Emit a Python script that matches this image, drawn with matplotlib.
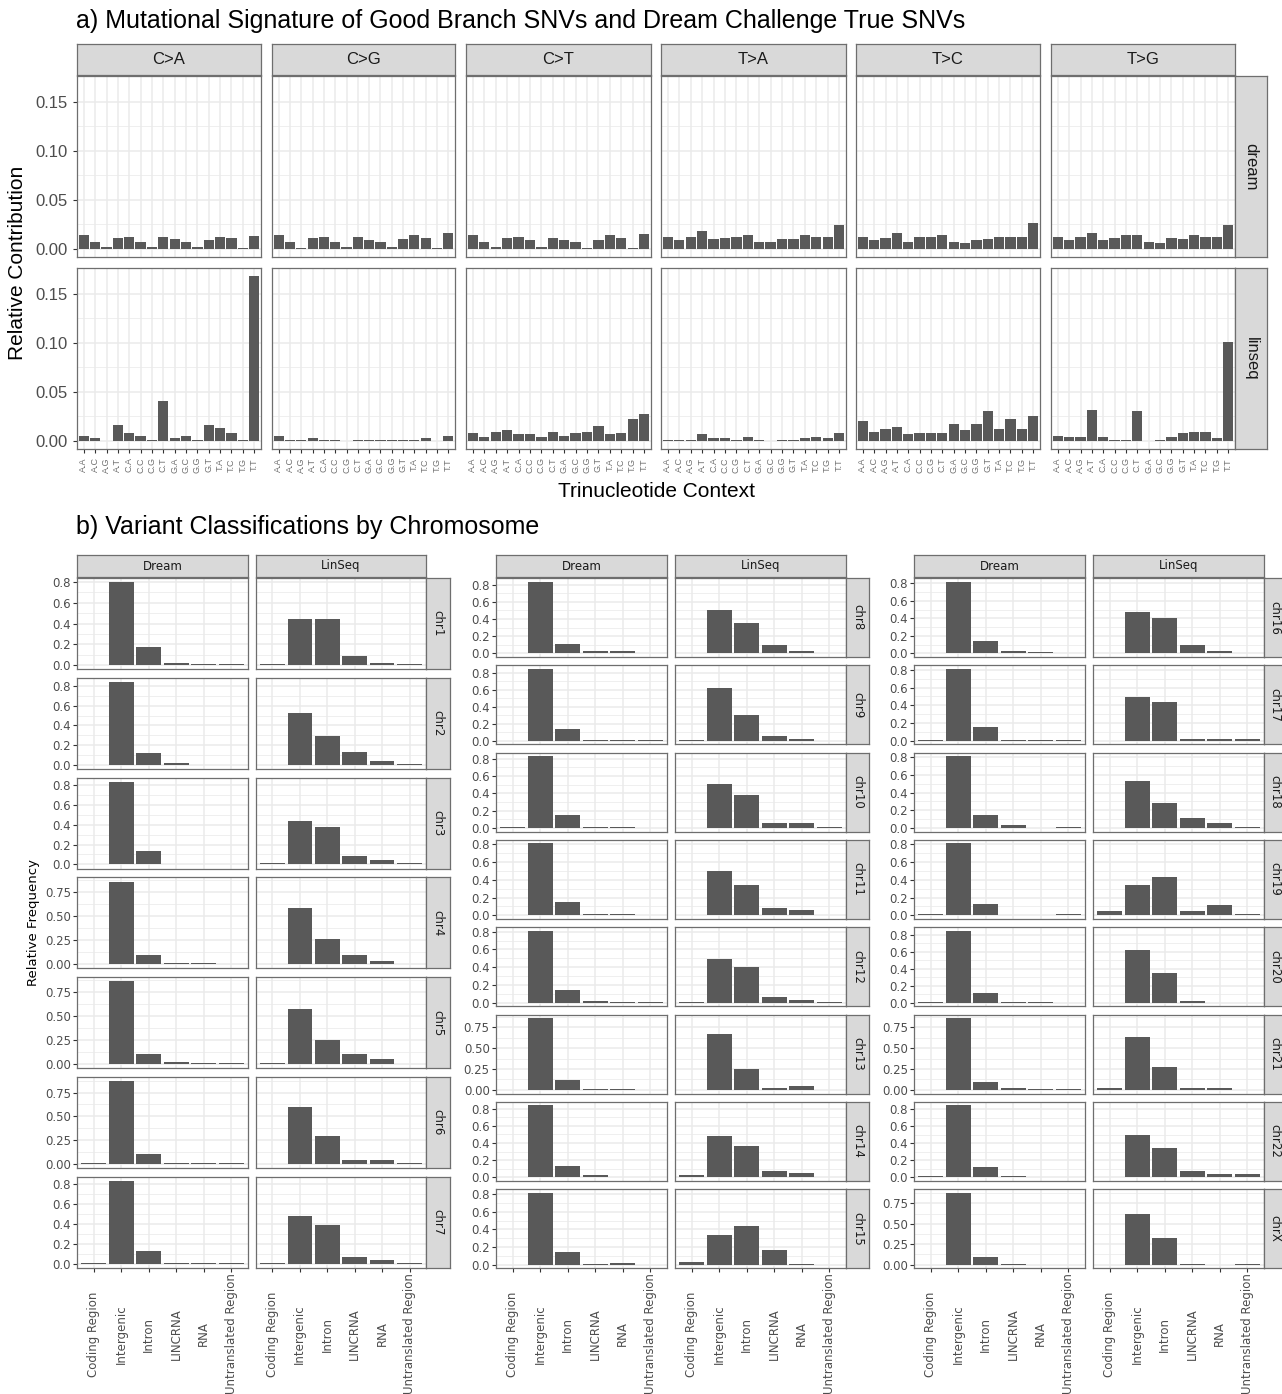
import numpy as np
import matplotlib
matplotlib.use('Agg')
import matplotlib.pyplot as plt
from matplotlib.transforms import blended_transform_factory

# a) mutational signature: relative contribution per trinucleotide context
contexts = ['A.A', 'A.C', 'A.G', 'A.T', 'C.A', 'C.C', 'C.G', 'C.T',
            'G.A', 'G.C', 'G.G', 'G.T', 'T.A', 'T.C', 'T.G', 'T.T']
substitutions = ['C>A', 'C>G', 'C>T', 'T>A', 'T>C', 'T>G']
samples = ['dream', 'linseq']

dream_ca = [0.0138, 0.0072, 0.0017, 0.0110, 0.0124, 0.0072, 0.0017, 0.0124,
            0.0100, 0.0072, 0.0017, 0.0086, 0.0124, 0.0110, 0.0007, 0.0134]
dream_cg = [0.0138, 0.0072, 0.0003, 0.0110, 0.0124, 0.0072, 0.0017, 0.0124,
            0.0086, 0.0072, 0.0017, 0.0100, 0.0138, 0.0110, 0.0007, 0.0165]
dream_ct = [0.0138, 0.0072, 0.0017, 0.0110, 0.0124, 0.0086, 0.0017, 0.0110,
            0.0086, 0.0072, 0.0007, 0.0086, 0.0138, 0.0110, 0.0007, 0.0150]
dream_ta = [0.0124, 0.0086, 0.0124, 0.0180, 0.0100, 0.0110, 0.0124, 0.0138,
            0.0072, 0.0072, 0.0100, 0.0100, 0.0138, 0.0124, 0.0124, 0.0245]
dream_tc = [0.0124, 0.0086, 0.0110, 0.0165, 0.0072, 0.0124, 0.0124, 0.0138,
            0.0072, 0.0059, 0.0086, 0.0100, 0.0124, 0.0124, 0.0124, 0.0260]
dream_tg = [0.0124, 0.0086, 0.0124, 0.0165, 0.0086, 0.0110, 0.0138, 0.0138,
            0.0072, 0.0059, 0.0110, 0.0100, 0.0138, 0.0124, 0.0124, 0.0245]

linseq_ca = [0.0048, 0.0030, 0.0000, 0.0156, 0.0078, 0.0044, 0.0010, 0.0410,
             0.0030, 0.0044, 0.0010, 0.0156, 0.0133, 0.0078, 0.0010, 0.1680]
linseq_cg = [0.0044, 0.0010, 0.0010, 0.0030, 0.0010, 0.0010, 0.0000, 0.0010,
             0.0010, 0.0010, 0.0010, 0.0010, 0.0010, 0.0030, 0.0000, 0.0044]
linseq_ct = [0.0078, 0.0037, 0.0092, 0.0105, 0.0065, 0.0065, 0.0037, 0.0092,
             0.0050, 0.0078, 0.0092, 0.0146, 0.0065, 0.0078, 0.0224, 0.0276]
linseq_ta = [0.0010, 0.0010, 0.0010, 0.0065, 0.0024, 0.0024, 0.0010, 0.0037,
             0.0010, 0.0000, 0.0010, 0.0010, 0.0024, 0.0037, 0.0024, 0.0078]
linseq_tc = [0.0197, 0.0092, 0.0120, 0.0143, 0.0065, 0.0078, 0.0078, 0.0078,
             0.0170, 0.0105, 0.0170, 0.0300, 0.0120, 0.0224, 0.0120, 0.0250]
linseq_tg = [0.0050, 0.0037, 0.0037, 0.0316, 0.0037, 0.0010, 0.0010, 0.0300,
             0.0000, 0.0010, 0.0037, 0.0078, 0.0092, 0.0092, 0.0024, 0.1010]

dream_sig = [dream_ca, dream_cg, dream_ct, dream_ta, dream_tc, dream_tg]
linseq_sig = [linseq_ca, linseq_cg, linseq_ct, linseq_ta, linseq_tc, linseq_tg]

# b) variant classifications per chromosome (relative frequency)
categories = ['Coding Region', 'Intergenic', 'Intron', 'LINCRNA', 'RNA', 'Untranslated Region']
chromosomes = ['chr%d' % i for i in range(1, 23)] + ['chrX']
methods = ['Dream', 'LinSeq']

dream_freq = [
    [0.003, 0.800, 0.177, 0.019, 0.010, 0.004],
    [0.000, 0.843, 0.120, 0.020, 0.000, 0.000],
    [0.000, 0.830, 0.136, 0.008, 0.008, 0.000],
    [0.000, 0.860, 0.096, 0.014, 0.008, 0.000],
    [0.000, 0.856, 0.100, 0.017, 0.006, 0.006],
    [0.005, 0.870, 0.107, 0.005, 0.005, 0.005],
    [0.005, 0.836, 0.132, 0.011, 0.011, 0.005],
    [0.000, 0.835, 0.110, 0.030, 0.023, 0.000],
    [0.000, 0.843, 0.134, 0.008, 0.008, 0.008],
    [0.008, 0.827, 0.152, 0.008, 0.008, 0.000],
    [0.007, 0.810, 0.150, 0.019, 0.011, 0.007],
    [0.000, 0.810, 0.140, 0.013, 0.006, 0.006],
    [0.000, 0.860, 0.122, 0.008, 0.008, 0.000],
    [0.006, 0.840, 0.134, 0.023, 0.006, 0.006],
    [0.000, 0.820, 0.140, 0.008, 0.015, 0.000],
    [0.000, 0.820, 0.136, 0.023, 0.011, 0.000],
    [0.007, 0.810, 0.155, 0.007, 0.007, 0.007],
    [0.000, 0.810, 0.146, 0.030, 0.000, 0.007],
    [0.019, 0.807, 0.123, 0.008, 0.008, 0.015],
    [0.006, 0.845, 0.117, 0.006, 0.006, 0.000],
    [0.000, 0.860, 0.090, 0.024, 0.006, 0.006],
    [0.015, 0.845, 0.124, 0.012, 0.006, 0.006],
    [0.000, 0.880, 0.090, 0.010, 0.000, 0.000],
]
linseq_freq = [
    [0.004, 0.443, 0.443, 0.082, 0.019, 0.012],
    [0.000, 0.523, 0.287, 0.130, 0.040, 0.008],
    [0.017, 0.436, 0.380, 0.086, 0.043, 0.013],
    [0.007, 0.590, 0.260, 0.096, 0.038, 0.000],
    [0.006, 0.572, 0.253, 0.106, 0.048, 0.000],
    [0.000, 0.598, 0.296, 0.041, 0.041, 0.014],
    [0.005, 0.486, 0.387, 0.069, 0.033, 0.011],
    [0.000, 0.504, 0.358, 0.096, 0.030, 0.000],
    [0.008, 0.617, 0.303, 0.050, 0.019, 0.000],
    [0.000, 0.503, 0.377, 0.061, 0.053, 0.008],
    [0.007, 0.500, 0.344, 0.082, 0.056, 0.000],
    [0.006, 0.490, 0.396, 0.063, 0.030, 0.006],
    [0.000, 0.672, 0.249, 0.028, 0.043, 0.000],
    [0.023, 0.483, 0.364, 0.073, 0.050, 0.008],
    [0.034, 0.340, 0.438, 0.166, 0.008, 0.000],
    [0.000, 0.472, 0.408, 0.094, 0.030, 0.000],
    [0.000, 0.498, 0.440, 0.015, 0.015, 0.015],
    [0.000, 0.530, 0.277, 0.116, 0.056, 0.015],
    [0.052, 0.335, 0.431, 0.052, 0.112, 0.015],
    [0.000, 0.620, 0.344, 0.020, 0.000, 0.000],
    [0.024, 0.632, 0.273, 0.024, 0.024, 0.000],
    [0.000, 0.494, 0.344, 0.073, 0.039, 0.039],
    [0.000, 0.624, 0.330, 0.012, 0.000, 0.012],
]

W, H = 1282, 1394
BAR = '#595959'
GRID = '#EBEBEB'
BORDER = '#6E6E6E'
STRIP = '#D9D9D9'
TXT = '#4D4D4D'
FA = 'Liberation Sans'
FB = 'DejaVu Sans'

fig = plt.figure(figsize=(W / 100, H / 100), dpi=100)


def box(x0, y0, x1, y1):
    return fig.add_axes([x0 / W, 1 - y1 / H, (x1 - x0) / W, (y1 - y0) / H])


def strip(x0, y0, x1, y1, label, rot=0, size=11, family=FA):
    s = box(x0, y0, x1, y1)
    s.set_facecolor(STRIP)
    s.set_xticks([])
    s.set_yticks([])
    for sp in s.spines.values():
        sp.set_color(BORDER)
        sp.set_linewidth(0.9)
    s.text(0.5, 0.5, label, rotation=rot, ha='center', va='center',
           transform=s.transAxes, fontsize=size, family=family, color='#1A1A1A')


def style(ax):
    for sp in ax.spines.values():
        sp.set_color(BORDER)
        sp.set_linewidth(0.9)
        sp.set_zorder(5)
    ax.set_axisbelow(True)
    ax.grid(True, which='major', color=GRID, lw=1.1)
    ax.grid(True, which='minor', axis='y', color=GRID, lw=0.55)
    ax.tick_params(which='minor', length=0)
    ax.tick_params(which='major', color='#333333', length=3, width=0.8, labelcolor=TXT)


# ---------------- part a ----------------
fig.text(76 / W, 1 - 21 / H,
         'a) Mutational Signature of Good Branch SNVs and Dream Challenge True SNVs',
         fontsize=18, family=FA, va='center', ha='left')

a_rows = [(76, 257), (268, 449)]
a_cols = [(77, 261), (272, 455), (466, 651), (661, 846), (856, 1040), (1051, 1235)]
a_ylim = (-0.0084, 0.1764)
xa = np.arange(len(contexts))

for r, (sample, sig) in enumerate(zip(samples, [dream_sig, linseq_sig])):
    y0, y1 = a_rows[r]
    for c, sub in enumerate(substitutions):
        x0, x1 = a_cols[c]
        ax = box(x0, y0, x1, y1)
        style(ax)
        ax.bar(xa, sig[c], width=0.9, color=BAR, zorder=3)
        ax.set_xlim(-0.6, len(contexts) - 0.4)
        ax.set_ylim(*a_ylim)
        ax.set_yticks([0, 0.05, 0.10, 0.15])
        ax.set_yticks([0.025, 0.075, 0.125], minor=True)
        ax.set_xticks(xa)
        ax.set_xticklabels([])
        if c == 0:
            ax.set_yticklabels(['0.00', '0.05', '0.10', '0.15'], fontsize=12, family=FA)
        else:
            ax.tick_params(axis='y', length=0, labelleft=False)
        if r == 0:
            ax.tick_params(axis='x', length=0)
            strip(x0, 44, x1, 75, sub, size=12)
        else:
            tr = blended_transform_factory(ax.transData, fig.transFigure)
            for i, lab in enumerate(contexts):
                ax.text(i, 1 - 465 / H, lab, rotation=90, ha='center', va='center',
                        transform=tr, fontsize=6.5, family=FA, color='#707070')
    strip(1235, y0, 1267, y1, sample, rot=270, size=12)

fig.text(18 / W, 1 - 263 / H, 'Relative Contribution', rotation=90,
         fontsize=15, family=FA, ha='center', va='center')
fig.text(656 / W, 1 - 491 / H, 'Trinucleotide Context',
         fontsize=15, family=FA, ha='center', va='center')

# ---------------- part b ----------------
fig.text(76 / W, 1 - 527 / H, 'b) Variant Classifications by Chromosome',
         fontsize=18, family=FA, va='center', ha='left')

blocks = [
    (0, 7, 77, 248, 256, 426, 450, 99.8, 91),
    (7, 15, 496, 667, 675, 846, 869, 87.3, 79),
    (15, 23, 914, 1085, 1093, 1264, 1286, 87.3, 79),
]
xb = np.arange(len(categories))

for start, stop, dx0, dx1, lx0, lx1, sx1, step, h in blocks:
    strip(dx0, 555, dx1, 577, methods[0], size=8.5, family=FB)
    strip(lx0, 555, lx1, 577, methods[1], size=8.5, family=FB)
    for k, idx in enumerate(range(start, stop)):
        top = 578 + k * step
        bot = top + h
        ymax = max(max(dream_freq[idx]), max(linseq_freq[idx]))
        if ymax > 0.85:
            ticks = [0, 0.25, 0.5, 0.75]
            minor = [0.125, 0.375, 0.625, 0.875]
            labels = ['0.00', '0.25', '0.50', '0.75']
        else:
            ticks = [0, 0.2, 0.4, 0.6, 0.8]
            minor = [0.1, 0.3, 0.5, 0.7]
            labels = ['0.0', '0.2', '0.4', '0.6', '0.8']
        for m, (x0, x1, vals) in enumerate([(dx0, dx1, dream_freq[idx]),
                                             (lx0, lx1, linseq_freq[idx])]):
            ax = box(x0, top, x1, bot)
            style(ax)
            ax.bar(xb, vals, width=0.9, color=BAR, zorder=3)
            ax.set_xlim(-0.6, len(categories) - 0.4)
            ax.set_ylim(-0.05 * ymax, 1.05 * ymax)
            ax.set_yticks(ticks)
            ax.set_yticks(minor, minor=True)
            ax.set_xticks(xb)
            ax.set_xticklabels([])
            if m == 0:
                ax.set_yticklabels(labels, fontsize=8.5, family=FB)
                ax.tick_params(axis='y', pad=1.5)
            else:
                ax.tick_params(axis='y', length=0, labelleft=False)
            if idx != stop - 1:
                ax.tick_params(axis='x', length=0)
            else:
                tr = blended_transform_factory(ax.transData, fig.transFigure)
                for i, lab in enumerate(categories):
                    ax.text(i, 1 - 1334 / H, lab, rotation=90, ha='center', va='center',
                            transform=tr, fontsize=8.5, family=FB, color=TXT)
        strip(lx1, top, sx1, bot, chromosomes[idx], rot=270, size=8.5, family=FB)

fig.text(33 / W, 1 - 922 / H, 'Relative Frequency', rotation=90,
         fontsize=9.5, family=FB, ha='center', va='center')

fig.savefig('out.png', dpi=100)
